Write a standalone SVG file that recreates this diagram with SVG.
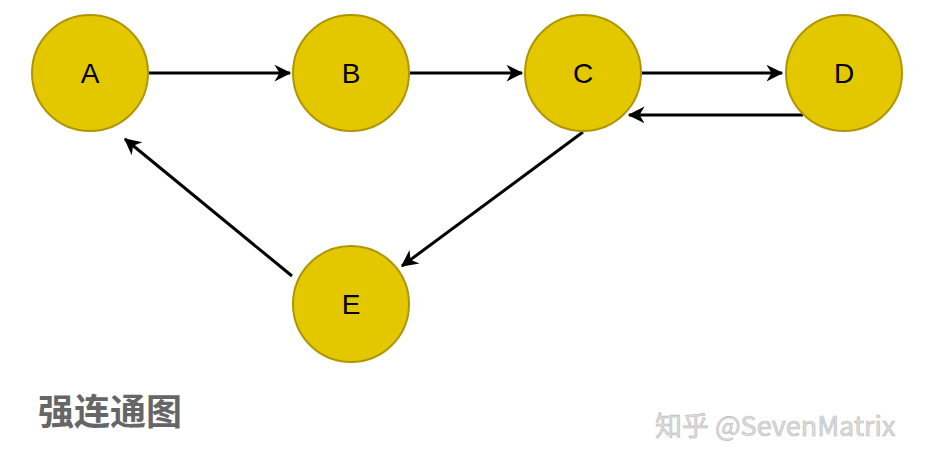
<svg xmlns="http://www.w3.org/2000/svg" width="926" height="464" viewBox="0 0 926 464">
<style>
.n{fill:#E3C800;stroke:#B09500;stroke-width:2}
.t{font-family:"Liberation Sans",Arial,sans-serif;font-size:28px;fill:#000;text-anchor:middle;dominant-baseline:central}
.e{stroke:#000;stroke-width:3;fill:none;marker-end:url(#a)}
</style>
<defs><marker id="a" viewBox="0 0 10 10" refX="9" refY="5" markerWidth="7" markerHeight="7" markerUnits="userSpaceOnUse" orient="auto" style="overflow:visible"><path d="M0,0 L10,5 L0,10 L3,5 Z" fill="#000" transform="scale(2.4) translate(-5.5,-2.9)"/></marker></defs>
<rect width="926" height="464" fill="#fff"/>
<g id="edges">
<path class="e" d="M148,73 H290"/>
<path class="e" d="M410,73 H522"/>
<path class="e" d="M642,73 H782"/>
<path class="e" d="M803,115 H629"/>
<path class="e" d="M583,132 L402,266"/>
<path class="e" d="M292,276 L125,139"/>
</g>
<g id="A"><circle class="n" cx="90" cy="73" r="58"/><text class="t" x="90" y="73">A</text></g>
<g id="B"><circle class="n" cx="351" cy="73" r="58"/><text class="t" x="351" y="73">B</text></g>
<g id="C"><circle class="n" cx="583" cy="73" r="58"/><text class="t" x="583" y="73">C</text></g>
<g id="D"><circle class="n" cx="844" cy="73" r="58"/><text class="t" x="844" y="73">D</text></g>
<g id="E"><circle class="n" cx="351" cy="304" r="58"/><text class="t" x="351" y="304">E</text></g>
<text x="38" y="425" font-family="'Noto Sans CJK SC',sans-serif" font-size="36" font-weight="bold" fill="#666">强连通图</text>
<text x="655" y="436" font-family="'Noto Sans CJK SC','Liberation Sans',sans-serif" font-size="27" fill="#ddd" stroke="#bbb" stroke-width="0.6">知乎 @SevenMatrix</text>
</svg>
